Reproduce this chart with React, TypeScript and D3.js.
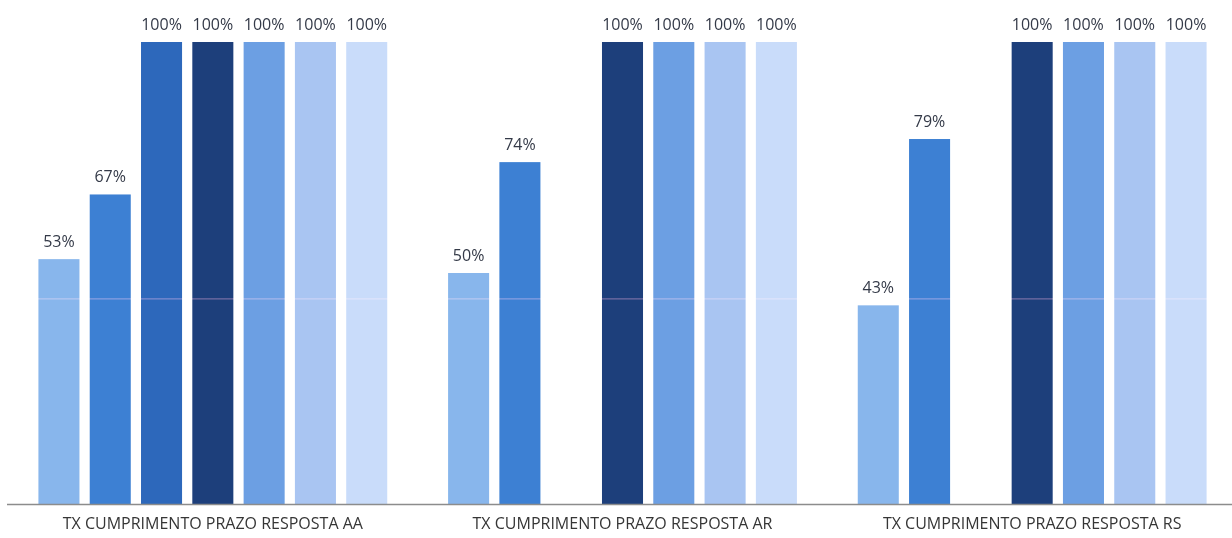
import React from "react";
import * as d3 from "d3";

const categories = [
  "TX CUMPRIMENTO PRAZO RESPOSTA AA",
  "TX CUMPRIMENTO PRAZO RESPOSTA AR",
  "TX CUMPRIMENTO PRAZO RESPOSTA RS",
];
const seriesNames = ["S1", "S2", "S3", "S4", "S5", "S6", "S7"];
const s1 = [53, 50, 43];
const s2 = [67, 74, 79];
const s3 = [100, null, null];
const s4 = [100, 100, 100];
const s5 = [100, 100, 100];
const s6 = [100, 100, 100];
const s7 = [100, 100, 100];
const seriesValues = [s1, s2, s3, s4, s5, s6, s7];
const colors = ["#88b6ec", "#3d80d3", "#2d68bb", "#1d3f7b", "#6c9fe3", "#a9c5f2", "#c9dcfa"];
const referenceValue = 44.4;

const W = 1232;
const H = 538;

export default function App() {
  const x0 = d3.scaleBand<string>().domain(categories).range([8, 1237]).padding(0);
  const x1 = d3
    .scaleBand<string>()
    .domain(seriesNames)
    .range([0, x0.bandwidth()])
    .paddingInner(0.2)
    .paddingOuter(0.593);
  const y = d3.scaleLinear().domain([0, 100]).range([504, 42]);

  return (
    <svg width={W} height={H} style={{ position: "absolute", left: 0, top: 0, background: "#fff" }}>
      <rect width={W} height={H} fill="#fff" />
      {categories.map((c, ci) => (
        <g key={c} transform={`translate(${x0(c)},0)`}>
          {seriesNames.map((s, si) => {
            const v = seriesValues[si][ci];
            if (v == null) return null;
            const bx = x1(s)!;
            return (
              <g key={s}>
                <rect x={bx} y={y(v)} width={x1.bandwidth()} height={y(0) - y(v)} fill={colors[si]} />
                <text
                  x={bx + x1.bandwidth() / 2}
                  y={y(v) - 12}
                  textAnchor="middle"
                  fontFamily="'Open Sans', sans-serif"
                  fontSize={16}
                  fill="#343a48"
                >
                  {v}%
                </text>
              </g>
            );
          })}
          <text
            x={x0.bandwidth() / 2}
            y={529}
            textAnchor="middle"
            fontFamily="'Open Sans', sans-serif"
            fontSize={16}
            fill="#363636"
          >
            {c}
          </text>
        </g>
      ))}
      <line
        x1={0}
        x2={W}
        y1={y(referenceValue)}
        y2={y(referenceValue)}
        stroke="#e08ab0"
        strokeOpacity={0.45}
        strokeWidth={1.2}
        style={{ mixBlendMode: "screen" }}
      />
      <line x1={7} x2={W} y1={y(0) + 0.5} y2={y(0) + 0.5} stroke="#8c8c8c" strokeWidth={1.3} />
    </svg>
  );
}
